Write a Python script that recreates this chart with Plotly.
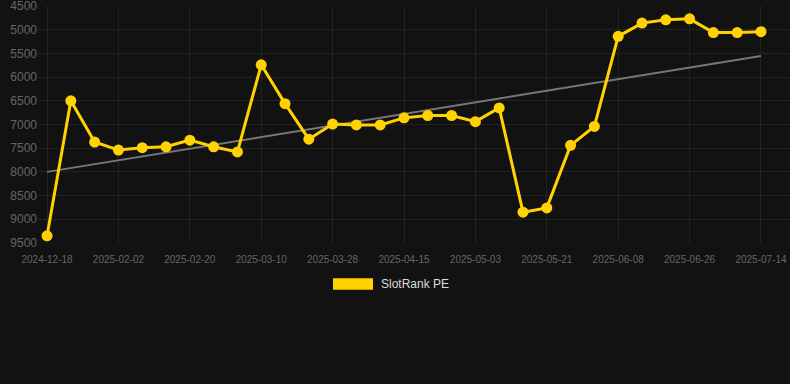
import plotly.graph_objects as go

dates = [
    "2024-12-18", "2025-01-21", "2025-01-27", "2025-02-02", "2025-02-08", "2025-02-14",
    "2025-02-20", "2025-02-26", "2025-03-04", "2025-03-10", "2025-03-16", "2025-03-22",
    "2025-03-28", "2025-04-03", "2025-04-09", "2025-04-15", "2025-04-21", "2025-04-27",
    "2025-05-03", "2025-05-09", "2025-05-15", "2025-05-21", "2025-05-27", "2025-06-02",
    "2025-06-08", "2025-06-14", "2025-06-20", "2025-06-26", "2025-07-02", "2025-07-08",
    "2025-07-14",
]
rank = [
    9350, 6500, 7370, 7540, 7490, 7470,
    7330, 7470, 7580, 5740, 6560, 7310,
    6990, 7010, 7010, 6860, 6810, 6810,
    6940, 6650, 8850, 8760, 7440, 7040,
    5140, 4860, 4790, 4770, 5060, 5060,
    5040,
]
trend_x = [dates[0], dates[-1]]
trend_y = [8000, 5555]
tick_labels = dates[::3]
y_ticks = [4500, 5000, 5500, 6000, 6500, 7000, 7500, 8000, 8500, 9000, 9500]

GOLD = "#FFD200"
BG = "#121212"
GRID = "#222222"
FONT = "Liberation Sans, Arial, sans-serif"

fig = go.Figure()
fig.add_trace(go.Scatter(
    x=trend_x, y=trend_y, mode="lines",
    line=dict(color="#777777", width=2), showlegend=False, hoverinfo="skip",
))
fig.add_trace(go.Scatter(
    x=dates, y=rank, mode="lines+markers", name="SlotRank PE",
    line=dict(color=GOLD, width=3),
    marker=dict(color=GOLD, size=11),
    showlegend=False,
))

W, H = 790, 384
ml, mr, mt, mb = 38, 0, 6, 141
pw, ph = W - ml - mr, H - mt - mb

def px_x(px):
    return (px - ml) / pw

def px_y(py):
    return (H - mb - py) / ph

fig.add_shape(type="rect", xref="paper", yref="paper",
              x0=px_x(333), x1=px_x(373), y0=px_y(289.7), y1=px_y(278.3),
              fillcolor=GOLD, line=dict(width=0))
fig.add_annotation(xref="paper", yref="paper", x=px_x(379), y=px_y(284),
                   text="SlotRank PE", showarrow=False, xanchor="left", yanchor="middle",
                   font=dict(family=FONT, size=12, color="#dddddd"))

fig.update_layout(
    width=W, height=H,
    margin=dict(l=ml, r=mr, t=mt, b=mb),
    paper_bgcolor=BG, plot_bgcolor=BG,
    font=dict(family=FONT, color="#666666"),
    xaxis=dict(
        type="category", categoryorder="array", categoryarray=dates,
        range=[-0.38, 31.22],
        tickmode="array", tickvals=tick_labels, ticktext=tick_labels,
        tickfont=dict(size=10, color="#666666"),
        ticklabelstandoff=9, ticklabeloverflow="allow",
        showgrid=True, gridcolor=GRID, gridwidth=1,
        zeroline=False, showline=False, ticks="", ticklen=0,
    ),
    yaxis=dict(
        range=[9501, 4499], tickvals=y_ticks,
        tickfont=dict(size=12, color="#666666"),
        ticklabeloverflow="allow",
        showgrid=True, gridcolor=GRID, gridwidth=1,
        zeroline=False, showline=False, ticks="",
    ),
    showlegend=False,
)

fig.write_html(
    "out.html",
    config={"displayModeBar": False},
    post_script="document.body.style.margin='0';document.body.style.background='#121212';",
)
